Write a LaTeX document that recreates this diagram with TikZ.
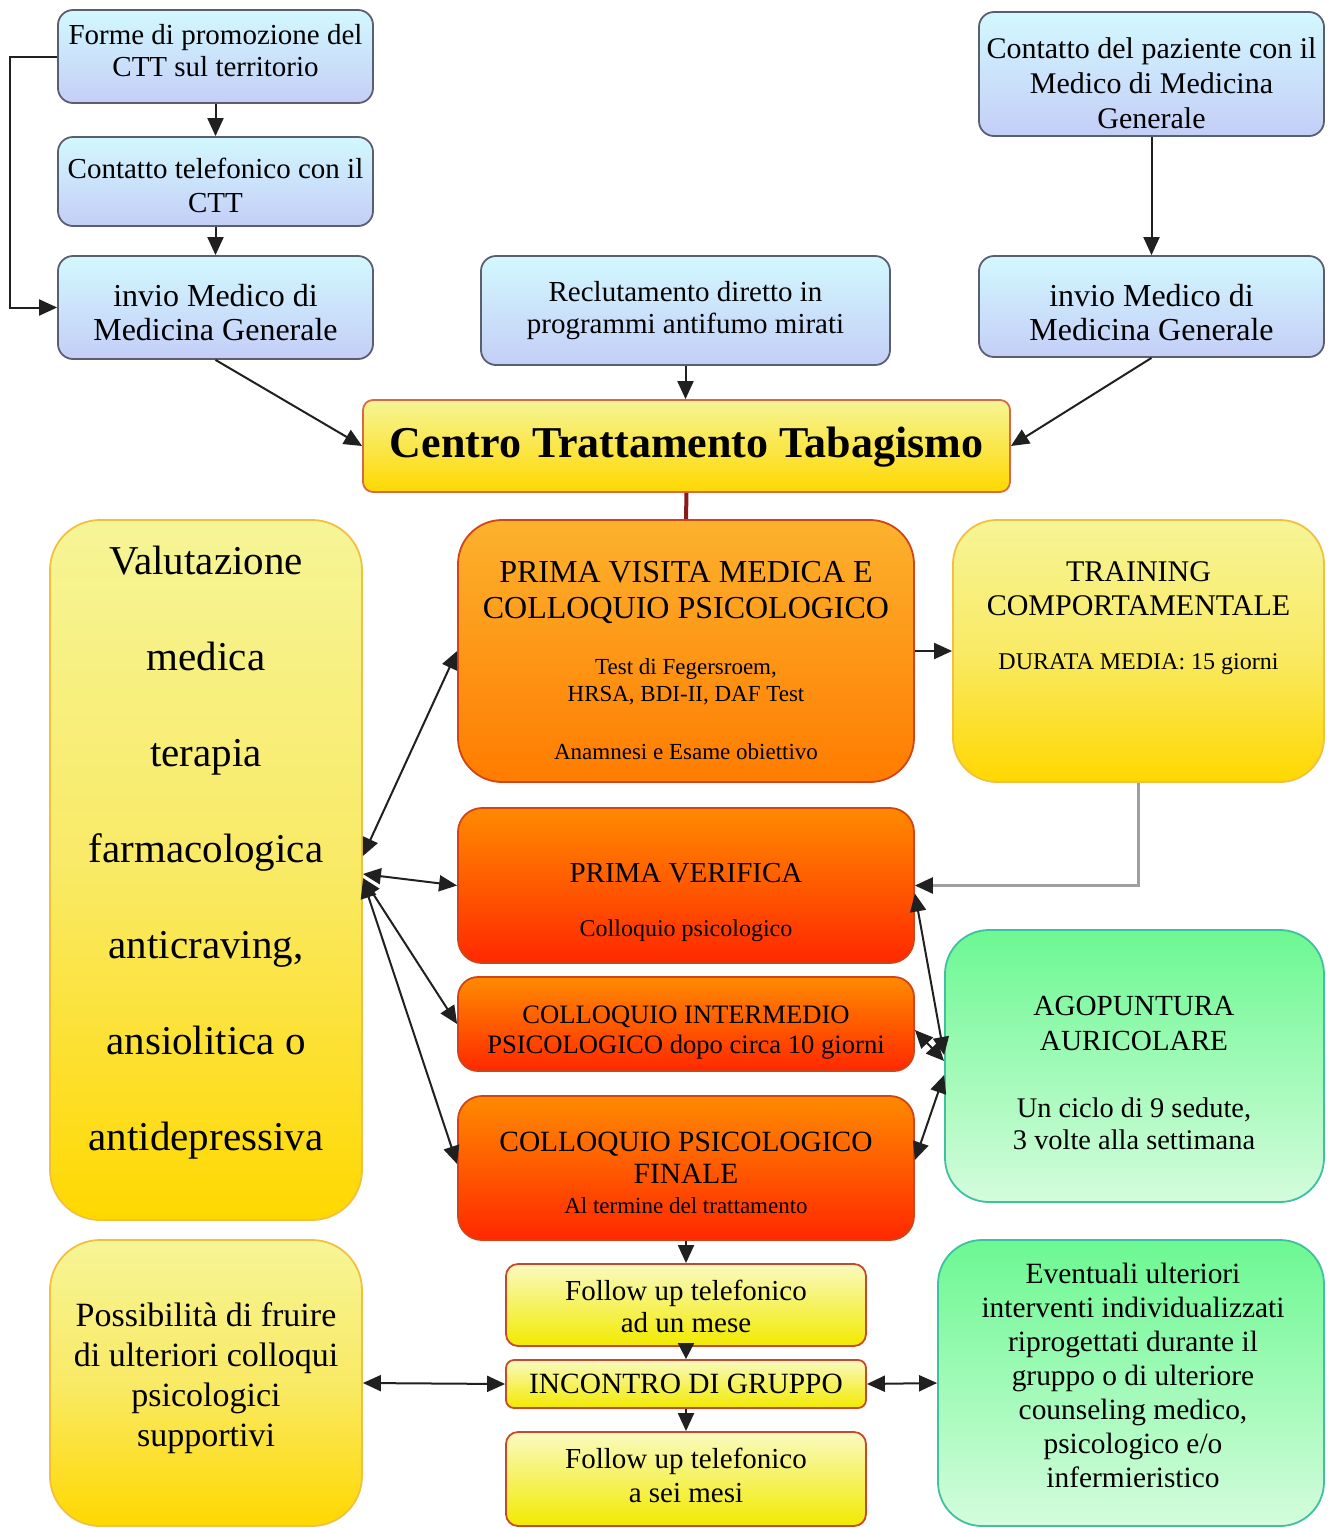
\documentclass[tikz,border=0pt]{standalone}
\usepackage{fontspec}
\setmainfont{Liberation Serif}
\usetikzlibrary{arrows.meta,calc}
\newcommand\fsz[2]{\fontsize{#1}{#2}\selectfont}
\newcommand\mkbox[6]{\node[#6, minimum width={(#4-#2)*0.5pt}, minimum height={(#5-#3)*0.5pt}] (#1) at ({(#2+#4)/2},{(#3+#5)/2}) {};}
\definecolor{bluetop}{HTML}{D2F8FE}
\definecolor{bluebot}{HTML}{C4CEF7}
\definecolor{bluebd}{HTML}{5A5F70}
\definecolor{ylwtop}{HTML}{F6F596}
\definecolor{ylwmid}{HTML}{F9EA66}
\definecolor{ylwbot}{HTML}{FFD800}
\definecolor{ylwbd}{HTML}{F2C040}
\definecolor{orgtop}{HTML}{FCB22E}
\definecolor{orgbot}{HTML}{FF7C00}
\definecolor{redtop}{HTML}{FF8A00}
\definecolor{redmid}{HTML}{FF5A00}
\definecolor{redbot}{HTML}{FF2800}
\definecolor{redbd}{HTML}{D04418}
\definecolor{grntop}{HTML}{6CF892}
\definecolor{grnbot}{HTML}{D4FCDC}
\definecolor{grnbd}{HTML}{40C0A0}
\definecolor{fuptop}{HTML}{FAFAC0}
\definecolor{fupbot}{HTML}{F2EA00}
\definecolor{fupbd}{HTML}{C84828}
\definecolor{linec}{HTML}{202020}
\definecolor{darkred}{HTML}{8B1A1A}
\tikzset{
  base/.style={draw, inner sep=0pt, line width=0.9pt},
  bluebox/.style={base, draw=bluebd, top color=bluetop, bottom color=bluebot, rounded corners=7.5pt},
  cttbox/.style={base, draw=redbd!80, top color=ylwtop, bottom color=ylwbot, rounded corners=5pt},
  pvbox/.style={base, draw=redbd, top color=orgtop, bottom color=orgbot, rounded corners=22pt},
  ylwbox/.style={base, draw=ylwbd, top color=ylwtop, bottom color=ylwbot, middle color=ylwmid, rounded corners=#1},
  redbox/.style={base, draw=redbd, top color=redtop, bottom color=redbot, middle color=redmid, rounded corners=#1},
  grnbox/.style={base, draw=grnbd, top color=grntop, bottom color=grnbot, rounded corners=22pt},
  fupbox/.style={base, draw=fupbd, top color=fuptop, bottom color=fupbot, rounded corners=#1},
  txt/.style={align=center, inner sep=0pt, text=black},
  arr/.style={draw=linec, line width=1pt, -{Triangle[length=9pt,width=8pt]}},
  sarr/.style={draw=linec, line width=1pt, -{Triangle[length=8pt,width=8pt]}},
  darr/.style={draw=linec, line width=1pt, {Triangle[length=9pt,width=8pt]}-{Triangle[length=9pt,width=8pt]}},
}
\begin{document}
\begin{tikzpicture}[x=0.5pt,y=-0.5pt]
\fill[white] (0,0) rectangle (1329,1528);
\useasboundingbox (0,0) rectangle (1329,1528);

% boxes
\mkbox{A}{58}{10}{373}{103}{bluebox}
\mkbox{B}{58}{137}{373}{226}{bluebox}
\mkbox{C}{58}{256}{373}{359}{bluebox}
\mkbox{D}{481}{256}{890}{365}{bluebox}
\mkbox{E}{979}{12}{1324}{136}{bluebox}
\mkbox{F}{979}{256}{1324}{357}{bluebox}
\mkbox{CTT}{363}{400}{1010}{492}{cttbox}
\mkbox{PV}{458}{520}{914}{782}{pvbox}
\mkbox{TR}{953}{520}{1324}{782}{ylwbox=22pt}
\mkbox{VAL}{50}{520}{362}{1220}{ylwbox=25pt}
\mkbox{VER}{458}{808}{914}{963}{redbox=12pt}
\mkbox{INT}{458}{977}{914}{1071}{redbox=10pt}
\mkbox{FIN}{458}{1096}{914}{1240}{redbox=12pt}
\mkbox{AGO}{945}{930}{1324}{1202}{grnbox}
\mkbox{POS}{50}{1240}{362}{1526}{ylwbox=25pt}
\mkbox{F1}{506}{1264}{866}{1346}{fupbox=6pt}
\mkbox{INC}{506}{1360}{866}{1408}{fupbox=4pt}
\mkbox{F2}{506}{1432}{866}{1526}{fupbox=6pt}
\mkbox{EV}{938}{1240}{1324}{1526}{grnbox}

% texts
\node[txt, font=\fsz{14.5}{16}] (A-t) at (215.5,51) {Forme di promozione del\\CTT sul territorio};
\node[txt, font=\fsz{14.5}{17}] (B-t) at (215.5,185) {Contatto telefonico con il\\CTT};
\node[txt, font=\fsz{16}{17}] (C-t) at (215.5,313) {invio Medico di\\Medicina Generale};
\node[txt, font=\fsz{14.5}{16}] (D-t) at (685.5,311) {Reclutamento diretto in\\programmi antifumo mirati};
\node[txt, font=\fsz{15}{17.5}] (E-t) at (1151.5,83) {Contatto del paziente con il\\Medico di Medicina\\Generale};
\node[txt, font=\fsz{16}{17}] (F-t) at (1151.5,313) {invio Medico di\\Medicina Generale};
\node[txt, font=\bfseries\fsz{22}{26}] (CTT-t) at (686.5,447) {Centro Trattamento Tabagismo};
\node[txt, font=\fsz{16}{18}] (PV-t) at (686,592) {PRIMA VISITA MEDICA E\\COLLOQUIO PSICOLOGICO};
\node[txt, font=\fsz{11.5}{13.5}] (PV-s) at (686,682) {Test di Fegersroem,\\HRSA, BDI-II, DAF Test};
\node[txt, font=\fsz{11.5}{13.5}] (PV-a) at (686,752) {Anamnesi e Esame obiettivo};
\node[txt, font=\fsz{15}{17}] (TR-t) at (1138.5,589) {TRAINING\\COMPORTAMENTALE};
\node[txt, font=\fsz{12}{14}] (TR-s) at (1138.5,664) {DURATA MEDIA: 15 giorni};
\node[txt, font=\fsz{20.5}{48}] (VAL-t) at (206,853) {Valutazione\\medica\\terapia\\farmacologica\\anticraving,\\ansiolitica o\\antidepressiva};
\node[txt, font=\fsz{14.5}{16}] (VER-t) at (686,873) {PRIMA VERIFICA};
\node[txt, font=\fsz{12}{14}] (VER-s) at (686,931) {Colloquio psicologico};
\node[txt, font=\fsz{13.3}{15}] (INT-t) at (686,1033) {COLLOQUIO INTERMEDIO\\PSICOLOGICO dopo circa 10 giorni};
\node[txt, font=\fsz{14.7}{16}] (FIN-t) at (686,1158) {COLLOQUIO PSICOLOGICO\\FINALE};
\node[txt, font=\fsz{11.5}{13.5}] (FIN-s) at (686,1206) {Al termine del trattamento};
\node[txt, font=\fsz{14.6}{17.5}] (AGO-t) at (1134,1023) {AGOPUNTURA\\AURICOLARE};
\node[txt, font=\fsz{14.2}{16}] (AGO-s) at (1134,1124) {Un ciclo di 9 sedute,\\3 volte alla settimana};
\node[txt, font=\fsz{17}{20}] (POS-t) at (206,1378) {Possibilità di fruire\\di ulteriori colloqui\\psicologici\\supportivi};
\node[txt, font=\fsz{14.5}{16}] (F1-t) at (686,1306) {Follow up telefonico\\ad un mese};
\node[txt, font=\fsz{14.7}{16}] (INC-t) at (686,1384) {INCONTRO DI GRUPPO};
\node[txt, font=\fsz{14.5}{17}] (F2-t) at (686,1475) {Follow up telefonico\\a sei mesi};
\node[txt, font=\fsz{14.7}{17}] (EV-t) at (1133,1375) {Eventuali ulteriori\\interventi individualizzati\\riprogettati durante il\\gruppo o di ulteriore\\counseling medico,\\psicologico e/o\\infermieristico};

% connectors
\coordinate (lA) at (10,56.5);
\draw[arr] (A.west) -- (lA) |- (C.west);
\draw[arr] (A.south) -- (B.north);
\draw[arr] (B.south) -- (C.north);
\draw[arr] (C.south) -- (CTT.west);
\draw[arr] (D.south) -- (D.south |- CTT.north);
\draw[arr] (E.south) -- (F.north);
\draw[arr] (F.south) -- (CTT.east);
\draw[darkred, line width=2pt] (CTT.south) -- (PV.north);
\draw[arr] (PV.east) -- (TR.west);
\draw[draw=gray!75, line width=1.3pt, -{Triangle[length=9pt,width=8pt,color=linec]}] (TR.south) |- (VER.east);
\draw[darr] ($(VAL.east)+(0,-14)$) -- (PV.west);
\draw[darr] ($(VAL.east)+(0,4)$) -- (VER.west);
\draw[darr] ($(VAL.east)+(0,8)$) -- (INT.west);
\draw[darr] ($(VAL.east)+(0,10)$) -- ($(FIN.west)+(0,-4)$);
\draw[darr] ($(VER.east)+(0,8)$) -- ($(AGO.west)+(0,-11)$);
\draw[darr] ($(INT.east)+(0,6)$) -- ($(AGO.west)+(0,-5)$);
\draw[darr] ($(FIN.east)+(0,-8)$) -- ($(AGO.west)+(0,9)$);
\draw[arr] (FIN.south) -- (F1.north);
\draw[sarr] (F1.south) -- (INC.north);
\draw[arr] (INC.south) -- (F2.north);
\draw[darr] (POS.east) -- (INC.west);
\draw[darr] (INC.east) -- (EV.west);
\end{tikzpicture}
\end{document}
